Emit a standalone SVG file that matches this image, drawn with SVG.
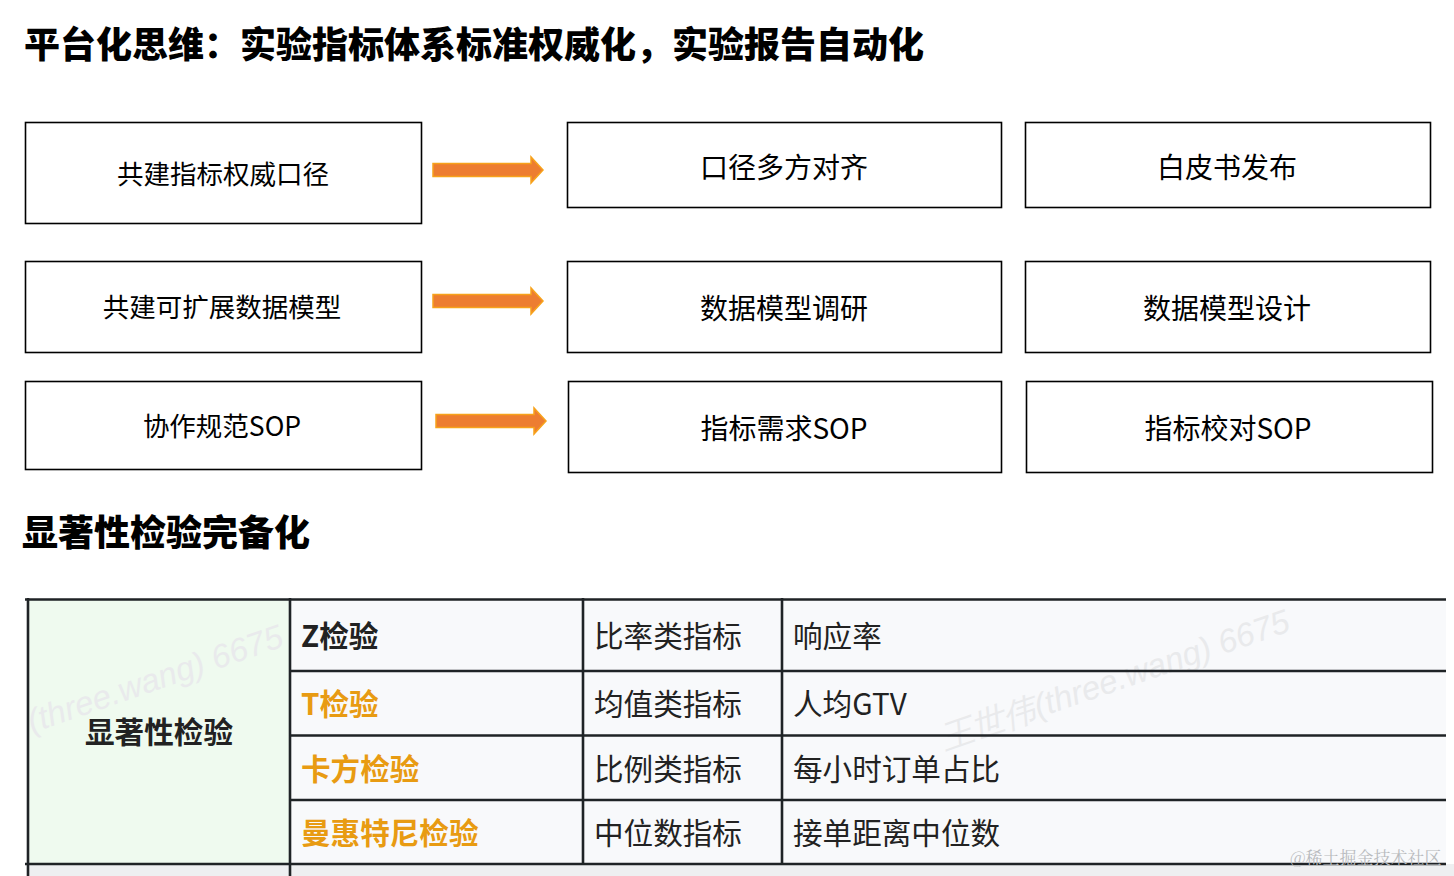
<svg xmlns="http://www.w3.org/2000/svg" width="1454" height="876" viewBox="0 0 1454 876">
<defs>
<style>
.t{font-family:"Noto Sans CJK SC","Liberation Sans",sans-serif;}
.h{font-weight:900;fill:#000;}
.box{fill:#fff;stroke:#000;stroke-width:1.6;}
.bt{font-size:28px;fill:#000;text-anchor:middle;dominant-baseline:central;}
.bl{font-size:26.5px;}
.arr{fill:#ED7D31;stroke:#F7A21B;stroke-width:1.5;}
.grid{stroke:#1f2326;stroke-width:2.6;fill:none;}
.td{font-size:29.6px;fill:#222;dominant-baseline:central;}
.or{fill:#E89B12;font-weight:700;}
.wm{font-family:"Liberation Sans",sans-serif;font-style:italic;font-size:33px;fill:#e9eaec;}
</style>
<clipPath id="c1"><rect x="29" y="601" width="260" height="262"/></clipPath>
<polygon id="arrowShape" points="0,-6.5 98,-6.5 98,-13 110,0 98,13 98,6.5 0,6.5"/>
</defs>
<rect width="1454" height="876" fill="#fff"/>

<text class="t h" x="24" y="58" font-size="36">平台化思维：实验指标体系标准权威化，实验报告自动化</text>

<g id="n1"><rect class="box" x="25.5" y="122.5" width="396" height="101"/><text class="t bt bl" x="223" y="172.5">共建指标权威口径</text></g>
<g id="n2"><rect class="box" x="567.5" y="122.5" width="434" height="85"/><text class="t bt" x="784" y="165.5">口径多方对齐</text></g>
<g id="n3"><rect class="box" x="1025.5" y="122.5" width="405" height="85"/><text class="t bt" x="1227" y="165.5">白皮书发布</text></g>

<g id="n4"><rect class="box" x="25.5" y="261.5" width="396" height="91"/><text class="t bt bl" x="222" y="305.5">共建可扩展数据模型</text></g>
<g id="n5"><rect class="box" x="567.5" y="261.5" width="434" height="91"/><text class="t bt" x="784" y="306.5">数据模型调研</text></g>
<g id="n6"><rect class="box" x="1025.5" y="261.5" width="405" height="91"/><text class="t bt" x="1227" y="306.5">数据模型设计</text></g>

<g id="n7"><rect class="box" x="25.5" y="381.5" width="396" height="88"/><text class="t bt bl" x="222" y="424.5">协作规范SOP</text></g>
<g id="n8"><rect class="box" x="568.5" y="381.5" width="433" height="91"/><text class="t bt" x="784" y="426.5">指标需求SOP</text></g>
<g id="n9"><rect class="box" x="1026.5" y="381.5" width="406" height="91"/><text class="t bt" x="1228" y="426.5">指标校对SOP</text></g>

<g id="connectors">
<use href="#arrowShape" class="arr" transform="translate(433,170)"/>
<use href="#arrowShape" class="arr" transform="translate(433,301)"/>
<use href="#arrowShape" class="arr" transform="translate(436,421)"/>
</g>

<text class="t h" x="22" y="546" font-size="36">显著性检验完备化</text>

<g id="table">
<rect x="27" y="599" width="1419" height="277" fill="#f8f9fb"/>
<rect x="27" y="599" width="263" height="265" fill="#effaef"/>
<rect x="27" y="864" width="1427" height="12" fill="#eeeff1"/>
<g clip-path="url(#c1)"><text class="wm" transform="translate(32,733) rotate(-19)">(three.wang) 6675</text></g>
<text class="wm" transform="translate(945,750) rotate(-19)">王世伟(three.wang) 6675</text>
<path class="grid" d="M25,599.5H1446 M290,671H1446 M290,735.5H1446 M290,800H1446 M25,864H1446 M28,598V876 M290,598V876 M583,598V864 M782,598V864"/>
<text class="t td" x="159" y="730" text-anchor="middle" font-size="32" font-weight="700" fill="#1c1c1c">显著性检验</text>
<text class="t td" x="301" y="634" font-weight="700" fill="#333">Z检验</text>
<text class="t td or" x="301" y="702">T检验</text>
<text class="t td or" x="301" y="767">卡方检验</text>
<text class="t td or" x="301" y="831">曼惠特尼检验</text>
<text class="t td" x="594" y="634">比率类指标</text>
<text class="t td" x="594" y="702">均值类指标</text>
<text class="t td" x="594" y="767">比例类指标</text>
<text class="t td" x="594" y="831">中位数指标</text>
<text class="t td" x="793" y="634">响应率</text>
<text class="t td" x="793" y="702">人均GTV</text>
<text class="t td" x="793" y="767">每小时订单占比</text>
<text class="t td" x="793" y="831">接单距离中位数</text>
<text x="1290" y="864" font-family="Noto Serif CJK SC,Noto Sans CJK SC,serif" font-size="17" fill="#b9bbbe">@稀土掘金技术社区</text>
</g>
</svg>
